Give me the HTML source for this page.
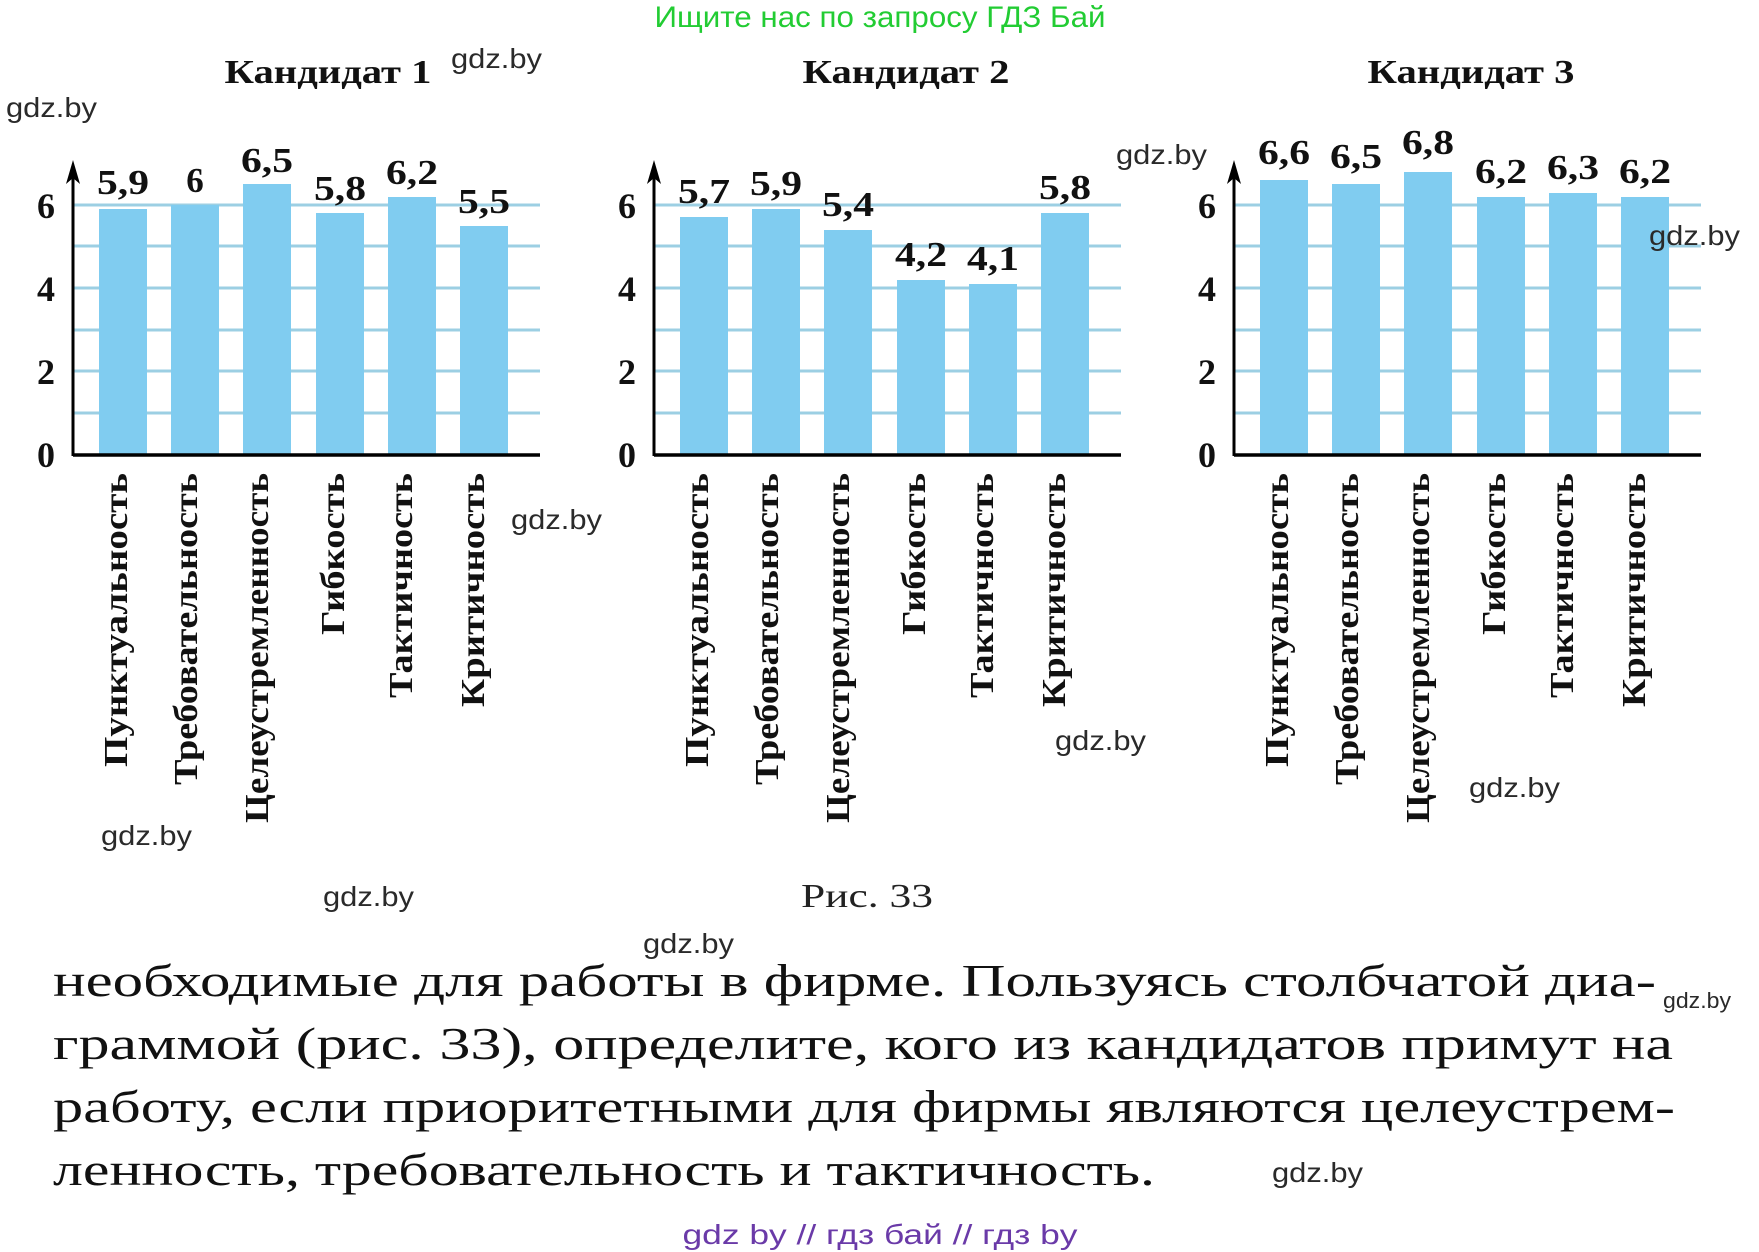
<!DOCTYPE html>
<html><head><meta charset="utf-8"><style>
html,body{margin:0;padding:0;background:#fff;width:1759px;height:1252px;overflow:hidden}
svg{display:block}
.s{font-family:"Liberation Serif",serif}
.b{font-family:"Liberation Serif",serif;font-weight:bold;fill:#111}
.w{font-family:"Liberation Sans",sans-serif;fill:#2a2a2a;font-size:28px}
</style></head><body>
<svg width="1759" height="1252" viewBox="0 0 1759 1252" xmlns="http://www.w3.org/2000/svg">
<defs>
<g id="grid">
  <g stroke="#9ccfe3" stroke-width="3">
    <line x1="73" y1="205" x2="540" y2="205"/>
    <line x1="73" y1="246" x2="540" y2="246"/>
    <line x1="73" y1="288" x2="540" y2="288"/>
    <line x1="73" y1="330" x2="540" y2="330"/>
    <line x1="73" y1="371" x2="540" y2="371"/>
    <line x1="73" y1="413" x2="540" y2="413"/>
  </g>
</g>
<g id="axes">
  <line x1="73" y1="455" x2="540" y2="455" stroke="#000" stroke-width="3.5"/>
  <line x1="73" y1="456" x2="73" y2="172" stroke="#000" stroke-width="3"/>
  <polygon points="73,160 66,184 73,178 80,184" fill="#000"/>
  <g class="b" font-size="36" text-anchor="middle">
    <text x="46" y="218">6</text>
    <text x="46" y="301">4</text>
    <text x="46" y="384">2</text>
    <text x="46" y="467">0</text>
  </g>
</g>
<g id="labels" class="b" font-size="34">
  <text transform="translate(127,473) rotate(-90)" text-anchor="end" textLength="294" lengthAdjust="spacingAndGlyphs">Пунктуальность</text>
  <text transform="translate(197,473) rotate(-90)" text-anchor="end" textLength="312" lengthAdjust="spacingAndGlyphs">Требовательность</text>
  <text transform="translate(268,473) rotate(-90)" text-anchor="end" textLength="350" lengthAdjust="spacingAndGlyphs">Целеустремленность</text>
  <text transform="translate(344,473) rotate(-90)" text-anchor="end" textLength="162" lengthAdjust="spacingAndGlyphs">Гибкость</text>
  <text transform="translate(412,473) rotate(-90)" text-anchor="end" textLength="225" lengthAdjust="spacingAndGlyphs">Тактичность</text>
  <text transform="translate(484,473) rotate(-90)" text-anchor="end" textLength="234" lengthAdjust="spacingAndGlyphs">Критичность</text>
</g>
</defs>

<text x="880" y="27" text-anchor="middle" font-family="Liberation Sans, sans-serif" font-size="30" fill="#22cc33" textLength="451" lengthAdjust="spacingAndGlyphs">Ищите нас по запросу ГДЗ Бай</text>

<!-- Chart 1 -->
<g>
  <use href="#grid"/>
  <g fill="#80ccf0">
    <rect x="99" y="209" width="48" height="245"/>
    <rect x="171" y="205" width="48" height="249"/>
    <rect x="243" y="184" width="48" height="270"/>
    <rect x="316" y="213" width="48" height="241"/>
    <rect x="388" y="197" width="48" height="257"/>
    <rect x="460" y="226" width="48" height="228"/>
  </g>
  <use href="#axes"/>
  <use href="#labels"/>
  <g class="b" font-size="35" text-anchor="middle">
    <text x="123" y="194" textLength="52" lengthAdjust="spacingAndGlyphs">5,9</text>
    <text x="195" y="192">6</text>
    <text x="267" y="172" textLength="52" lengthAdjust="spacingAndGlyphs">6,5</text>
    <text x="340" y="200" textLength="52" lengthAdjust="spacingAndGlyphs">5,8</text>
    <text x="412" y="184" textLength="52" lengthAdjust="spacingAndGlyphs">6,2</text>
    <text x="484" y="213" textLength="52" lengthAdjust="spacingAndGlyphs">5,5</text>
  </g>
  <text x="328" y="83" class="b" font-size="34" text-anchor="middle" textLength="207" lengthAdjust="spacingAndGlyphs">Кандидат 1</text>
</g>

<!-- Chart 2 -->
<g transform="translate(581,0)">
  <use href="#grid"/>
  <g fill="#80ccf0">
    <rect x="99" y="217" width="48" height="237"/>
    <rect x="171" y="209" width="48" height="245"/>
    <rect x="243" y="230" width="48" height="224"/>
    <rect x="316" y="280" width="48" height="174"/>
    <rect x="388" y="284" width="48" height="170"/>
    <rect x="460" y="213" width="48" height="241"/>
  </g>
  <use href="#axes"/>
  <use href="#labels"/>
  <g class="b" font-size="35" text-anchor="middle">
    <text x="123" y="203" textLength="52" lengthAdjust="spacingAndGlyphs">5,7</text>
    <text x="195" y="195" textLength="52" lengthAdjust="spacingAndGlyphs">5,9</text>
    <text x="267" y="216" textLength="52" lengthAdjust="spacingAndGlyphs">5,4</text>
    <text x="340" y="266" textLength="52" lengthAdjust="spacingAndGlyphs">4,2</text>
    <text x="412" y="270" textLength="52" lengthAdjust="spacingAndGlyphs">4,1</text>
    <text x="484" y="199" textLength="52" lengthAdjust="spacingAndGlyphs">5,8</text>
  </g>
  <text x="325" y="83" class="b" font-size="34" text-anchor="middle" textLength="207" lengthAdjust="spacingAndGlyphs">Кандидат 2</text>
</g>

<!-- Chart 3 -->
<g transform="translate(1161,0)">
  <use href="#grid"/>
  <g fill="#80ccf0">
    <rect x="99" y="180" width="48" height="274"/>
    <rect x="171" y="184" width="48" height="270"/>
    <rect x="243" y="172" width="48" height="282"/>
    <rect x="316" y="197" width="48" height="257"/>
    <rect x="388" y="193" width="48" height="261"/>
    <rect x="460" y="197" width="48" height="257"/>
  </g>
  <use href="#axes"/>
  <use href="#labels"/>
  <g class="b" font-size="35" text-anchor="middle">
    <text x="123" y="164" textLength="52" lengthAdjust="spacingAndGlyphs">6,6</text>
    <text x="195" y="168" textLength="52" lengthAdjust="spacingAndGlyphs">6,5</text>
    <text x="267" y="154" textLength="52" lengthAdjust="spacingAndGlyphs">6,8</text>
    <text x="340" y="183" textLength="52" lengthAdjust="spacingAndGlyphs">6,2</text>
    <text x="412" y="179" textLength="52" lengthAdjust="spacingAndGlyphs">6,3</text>
    <text x="484" y="183" textLength="52" lengthAdjust="spacingAndGlyphs">6,2</text>
  </g>
  <text x="310" y="83" class="b" font-size="34" text-anchor="middle" textLength="207" lengthAdjust="spacingAndGlyphs">Кандидат 3</text>
</g>

<text x="867" y="907" class="s" font-size="34" fill="#222" text-anchor="middle" textLength="132" lengthAdjust="spacingAndGlyphs">Рис. 33</text>

<g class="s" font-size="45" fill="#111">
  <text x="53" y="996" textLength="1603" lengthAdjust="spacingAndGlyphs">необходимые для работы в фирме. Пользуясь столбчатой диа-</text>
  <text x="53" y="1059" textLength="1620" lengthAdjust="spacingAndGlyphs">граммой (рис. 33), определите, кого из кандидатов примут на</text>
  <text x="53" y="1122" textLength="1622" lengthAdjust="spacingAndGlyphs">работу, если приоритетными для фирмы являются целеустрем-</text>
  <text x="53" y="1185" textLength="1102" lengthAdjust="spacingAndGlyphs">ленность, требовательность и тактичность.</text>
</g>

<g class="w">
  <text x="451" y="68" textLength="91" lengthAdjust="spacingAndGlyphs">gdz.by</text>
  <text x="6" y="117" textLength="91" lengthAdjust="spacingAndGlyphs">gdz.by</text>
  <text x="1116" y="164" textLength="91" lengthAdjust="spacingAndGlyphs">gdz.by</text>
  <text x="1649" y="245" textLength="91" lengthAdjust="spacingAndGlyphs">gdz.by</text>
  <text x="511" y="529" textLength="91" lengthAdjust="spacingAndGlyphs">gdz.by</text>
  <text x="1055" y="750" textLength="91" lengthAdjust="spacingAndGlyphs">gdz.by</text>
  <text x="1469" y="797" textLength="91" lengthAdjust="spacingAndGlyphs">gdz.by</text>
  <text x="101" y="845" textLength="91" lengthAdjust="spacingAndGlyphs">gdz.by</text>
  <text x="323" y="906" textLength="91" lengthAdjust="spacingAndGlyphs">gdz.by</text>
  <text x="643" y="953" textLength="91" lengthAdjust="spacingAndGlyphs">gdz.by</text>
  <text x="1663" y="1008" font-size="22" textLength="68" lengthAdjust="spacingAndGlyphs">gdz.by</text>
  <text x="1272" y="1182" textLength="91" lengthAdjust="spacingAndGlyphs">gdz.by</text>
</g>

<text x="880" y="1244" text-anchor="middle" font-family="Liberation Sans, sans-serif" font-size="28" fill="#6a3aa8" textLength="395" lengthAdjust="spacingAndGlyphs">gdz by  //  гдз бай  //  гдз by</text>
</svg>
</body></html>
